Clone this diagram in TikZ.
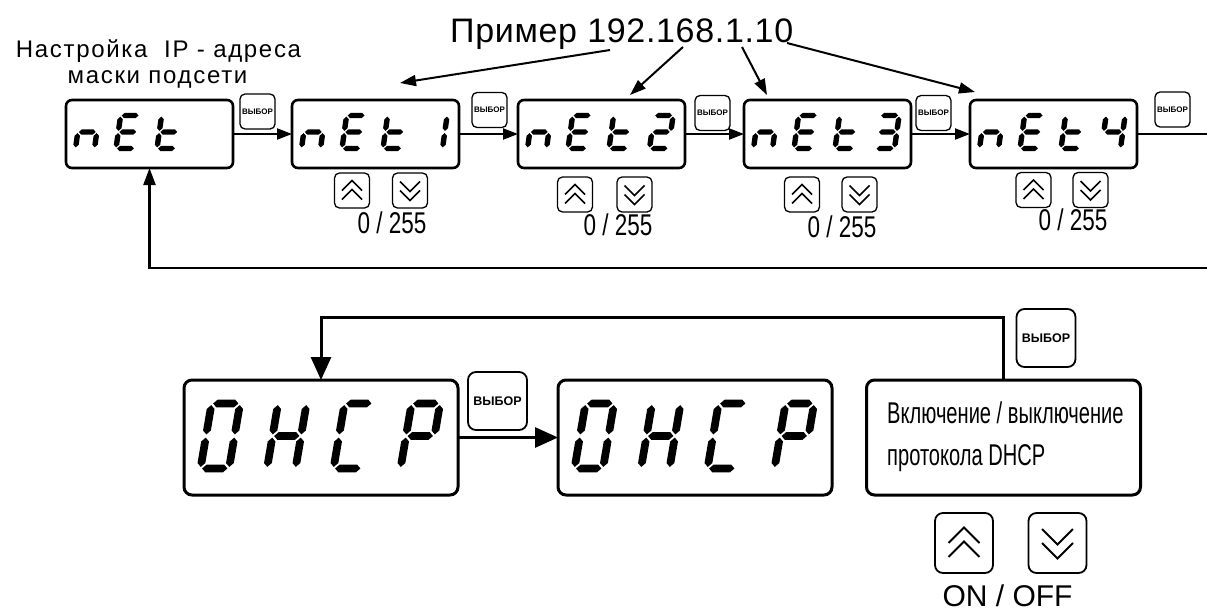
\documentclass[tikz,border=0pt]{standalone}
\usepackage{fontspec}
\setmainfont{Liberation Sans}
\newfontfamily\narrowf[FakeStretch=0.75]{Liberation Sans}
\newfontfamily\narrowg[FakeStretch=0.67]{Liberation Sans}
\newfontfamily\spacedf[LetterSpace=7]{Liberation Sans}
\newfontfamily\spacedg[LetterSpace=2]{Liberation Sans}
\usetikzlibrary{arrows.meta}
% seven-segment helpers
\newcommand\hsg[1]{({\dg},{#1}) -- ({\dg+\dt},{#1+\dt}) -- ({\dW-\dg-\dt},{#1+\dt}) -- ({\dW-\dg},{#1}) -- ({\dW-\dg-\dt},{#1-\dt}) -- ({\dg+\dt},{#1-\dt}) -- cycle}
\newcommand\vsg[3]{({#1},{#2+\dg}) -- ({#1+\dt},{#2+\dg+\dt}) -- ({#1+\dt},{#3-\dg-\dt}) -- ({#1},{#3-\dg}) -- ({#1-\dt},{#3-\dg-\dt}) -- ({#1-\dt},{#2+\dg+\dt}) -- cycle}
\def\sga{\hsg{\dH}}
\def\sgb{\vsg{\dW}{\dH/2}{\dH}}
\def\sgc{\vsg{\dW}{0}{\dH/2}}
\def\sgd{\hsg{0}}
\def\sge{\vsg{0}{0}{\dH/2}}
\def\sgf{\vsg{0}{\dH/2}{\dH}}
\def\sgg{\hsg{\dH/2}}
\newcommand\segdigit[3]{%
  \begin{scope}[shift={(#1,#2)},yscale=-1,xslant=-\dsl]
    \foreach \s in {#3}{\expandafter\fill\csname sg\s\endcsname;}
  \end{scope}}
\newcommand\smalldigits{\def\dW{19}\def\dH{33}\def\dt{2.7}\def\dg{1.1}\def\dsl{0.14}}
\newcommand\bigdigits{\def\dW{28.5}\def\dH{65}\def\dt{3.9}\def\dg{1.6}\def\dsl{0.17}}
\begin{document}
\begin{tikzpicture}[x=1pt,y=-1pt,
  disp/.style={draw,line width=2.6pt,rounded corners=6pt,minimum width=167pt,minimum height=68pt,inner sep=0pt,outer sep=0pt},
  bdisp/.style={disp,line width=3pt,rounded corners=8pt,minimum width=274pt,minimum height=115pt},
  sel/.style={draw,line width=1.3pt,rounded corners=5pt,minimum size=35pt,inner sep=0pt,font=\fontsize{8}{8}\selectfont\bfseries},
  bsel/.style={sel,line width=1.8pt,rounded corners=8pt,minimum width=59pt,minimum height=58pt,font=\fontsize{12.5}{12.5}\selectfont\bfseries},
  ud/.style={draw,line width=1.3pt,rounded corners=5pt,minimum size=35pt,inner sep=0pt},
  bud/.style={ud,line width=1.8pt,rounded corners=8pt,minimum width=58pt,minimum height=60pt},
  arr/.style={line width=2.2pt,-{Triangle[length=15pt,width=11pt]}},
  larr/.style={line width=2.2pt,-{Triangle[length=17pt,width=12pt]}},
  parr/.style={line width=2pt,-{Triangle[length=16pt,width=11pt]}},
  barr/.style={line width=3pt,-{Triangle[length=23pt,width=20pt]}},
  conn/.style={line width=2.2pt},
  val/.style={anchor=base,inner sep=0pt,font=\narrowf\fontsize{30}{30}\selectfont},
  upchev/.pic={\draw (-10,0) -- (0,-10) -- (10,0) (-10,9) -- (0,-1) -- (10,9);},
  dnchev/.pic={\draw (-10,-9) -- (0,1) -- (10,-9) (-10,0) -- (0,10) -- (10,0);}
]
\useasboundingbox (0,0) rectangle (1207,611);

% labels
\node[anchor=base,inner sep=0pt,font=\spacedf\fontsize{24}{24}\selectfont] (lab1) at (158.5,57) {Настройка\ \ IP - адреса};
\node[anchor=base,inner sep=0pt,font=\spacedf\fontsize{24}{24}\selectfont] (lab2) at (157.5,83) {маски подсети};
\node[anchor=base west,inner sep=0pt,font=\spacedg\fontsize{34}{34}\selectfont] (ex) at (450,42) {Пример 192.168.1.10};

% top displays
\node[disp] (net) at (149.5,134) {};
\node[disp] (net1) at (375.5,134) {};
\node[disp] (net2) at (601.5,134) {};
\node[disp] (net3) at (827.5,134) {};
\node[disp] (net4) at (1053.5,134) {};

\smalldigits
\segdigit{75.5}{148.5}{c,e,g}
\segdigit{116}{148.5}{a,d,e,f,g}
\segdigit{157}{148.5}{d,e,f,g}

\segdigit{301.5}{148.5}{c,e,g}
\segdigit{342}{148.5}{a,d,e,f,g}
\segdigit{383}{148.5}{d,e,f,g}
\segdigit{423.5}{148.5}{b,c}

\segdigit{527.5}{148.5}{c,e,g}
\segdigit{568}{148.5}{a,d,e,f,g}
\segdigit{609}{148.5}{d,e,f,g}
\segdigit{649.5}{148.5}{a,b,g,e,d}

\segdigit{753.5}{148.5}{c,e,g}
\segdigit{794}{148.5}{a,d,e,f,g}
\segdigit{835}{148.5}{d,e,f,g}
\segdigit{875.5}{148.5}{a,b,g,c,d}

\segdigit{979.5}{148.5}{c,e,g}
\segdigit{1020}{148.5}{a,d,e,f,g}
\segdigit{1061}{148.5}{d,e,f,g}
\segdigit{1101.5}{148.5}{f,g,b,c}

% select buttons (top)
\node[sel] (s1) at (257.5,111.5) {ВЫБОР};
\node[sel] (s2) at (489.5,110) {ВЫБОР};
\node[sel] (s3) at (712.5,113) {ВЫБОР};
\node[sel] (s4) at (933.5,113) {ВЫБОР};
\node[sel] (s5) at (1172.5,109.5) {ВЫБОР};

% up/down buttons (top)
\node[ud] (u1) at (352,190.5) {};
\node[ud] (d1) at (410,190.5) {};
\node[ud] (u2) at (575,194.5) {};
\node[ud] (d2) at (634.5,194.5) {};
\node[ud] (u3) at (802,194.5) {};
\node[ud] (d3) at (859.5,194.5) {};
\node[ud] (u4) at (1033.5,190) {};
\node[ud] (d4) at (1090.5,190) {};
\foreach \n in {u1,u2,u3,u4}{\pic[line width=1.5pt] at (\n.center) {upchev};}
\foreach \n in {d1,d2,d3,d4}{\pic[line width=1.5pt] at (\n.center) {dnchev};}

\node[val] (v1) at (392,233) {0 / 255};
\node[val] (v2) at (618,235) {0 / 255};
\node[val] (v3) at (842,237) {0 / 255};
\node[val] (v4) at (1073,230) {0 / 255};

% top connectors
\draw[arr] (net.east) -- (net1.west);
\draw[arr] (net1.east) -- (net2.west);
\draw[arr] (net2.east) -- (net3.west);
\draw[arr] (net3.east) -- (net4.west);
\coordinate (re1) at (1207,134);
\coordinate (re2) at (1207,268);
\draw[conn] (net4.east) -- (re1);
\draw[larr] (re2) -- (re2 -| net.south) -- (net.south);

% pointer arrows
\coordinate (q1) at (610,50);
\coordinate (q2) at (683,47);
\coordinate (q3) at (742,47);
\coordinate (q4) at (787,43);
\coordinate (p1) at (400,83);
\coordinate (p2) at (630,95);
\coordinate (p3) at (767,95);
\coordinate (p4) at (975,92);
\draw[parr] (q1) -- (p1);
\draw[parr] (q2) -- (p2);
\draw[parr] (q3) -- (p3);
\draw[parr] (q4) -- (p4);

% bottom displays
\node[bdisp] (dh1) at (321,437.5) {};
\node[bdisp] (dh2) at (695,437.5) {};
\node[bdisp] (tb) at (1003.5,437.5) {};
\bigdigits
\segdigit{200.5}{468.5}{a,b,c,d,e,f}
\segdigit{267}{468.5}{b,c,e,f,g}
\segdigit{333.5}{468.5}{a,d,e,f}
\segdigit{400.5}{468.5}{a,b,e,f,g}

\segdigit{574.5}{468.5}{a,b,c,d,e,f}
\segdigit{641}{468.5}{b,c,e,f,g}
\segdigit{707.5}{468.5}{a,d,e,f}
\segdigit{774.5}{468.5}{a,b,e,f,g}

\node[anchor=base west,inner sep=0pt,font=\narrowg\fontsize{30}{30}\selectfont] (t1) at (887,423) {Включение / выключение};
\node[anchor=base west,inner sep=0pt,font=\narrowg\fontsize{30}{30}\selectfont] (t2) at (887,465) {протокола DHCP};

\node[bsel] (s6) at (497.5,401) {ВЫБОР};
\node[bsel] (s7) at (1046,338) {ВЫБОР};

\node[bud] (bu) at (964,543) {};
\node[bud] (bd) at (1057.5,543) {};
\pic[line width=2pt,scale=1.55] at (bu.center) {upchev};
\pic[line width=2pt,scale=1.55] at (bd.center) {dnchev};
\node[anchor=base,inner sep=0pt,font=\fontsize{30}{30}\selectfont] (onoff) at (1007.5,606) {ON / OFF};

\draw[barr] (dh1.east) -- (dh2.west);
\draw[barr] (tb.north) -- ++(0,-63) -| (dh1.north);
\end{tikzpicture}
\end{document}
